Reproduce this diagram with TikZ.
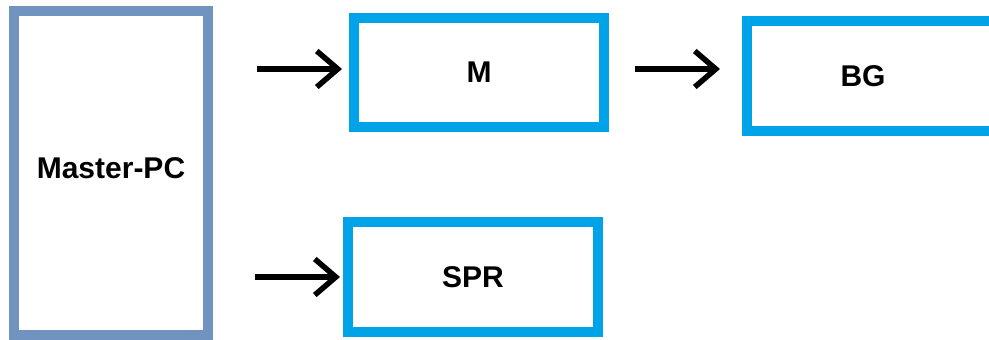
\documentclass[tikz,border=0pt]{standalone}
\usepackage{fontspec}
\setmainfont{Liberation Sans}
\usetikzlibrary{arrows.meta}
\definecolor{pcblue}{HTML}{7093C0}
\definecolor{boxblue}{HTML}{00A2E8}
\tikzset{
  lbl/.style={font=\bfseries\fontsize{30}{34}\selectfont},
  pcbox/.style={draw=pcblue,line width=10pt,rectangle,lbl},
  unitbox/.style={draw=boxblue,line width=10pt,rectangle,lbl},
  link/.style={line width=5.5pt,-{Straight Barb[length=21pt,width=36pt]}}
}
\begin{document}
\begin{tikzpicture}[x=1pt,y=-1pt]
\useasboundingbox (0,0) rectangle (989,340);
\node[pcbox,minimum width=194pt,minimum height=324pt,label={[lbl,yshift=5pt]center:Master-PC}] (pc) at (111,173) {};
\node[unitbox,minimum width=250pt,minimum height=109pt] (m) at (479,72.5) {M};
\node[unitbox,minimum width=270pt,minimum height=110pt,label={[lbl,xshift=-19pt]center:BG}] (bg) at (882,76) {};
\node[unitbox,minimum width=250pt,minimum height=110pt] (spr) at (473,277) {SPR};
\coordinate (a1) at (257,69);
\coordinate (b1) at (342,69);
\coordinate (a2) at (635,69);
\coordinate (b2) at (720,69);
\coordinate (a3) at (255,277);
\coordinate (b3) at (340,277);
\draw[link] (a1) -- (b1);
\draw[link] (a2) -- (b2);
\draw[link] (a3) -- (b3);
\end{tikzpicture}
\end{document}
